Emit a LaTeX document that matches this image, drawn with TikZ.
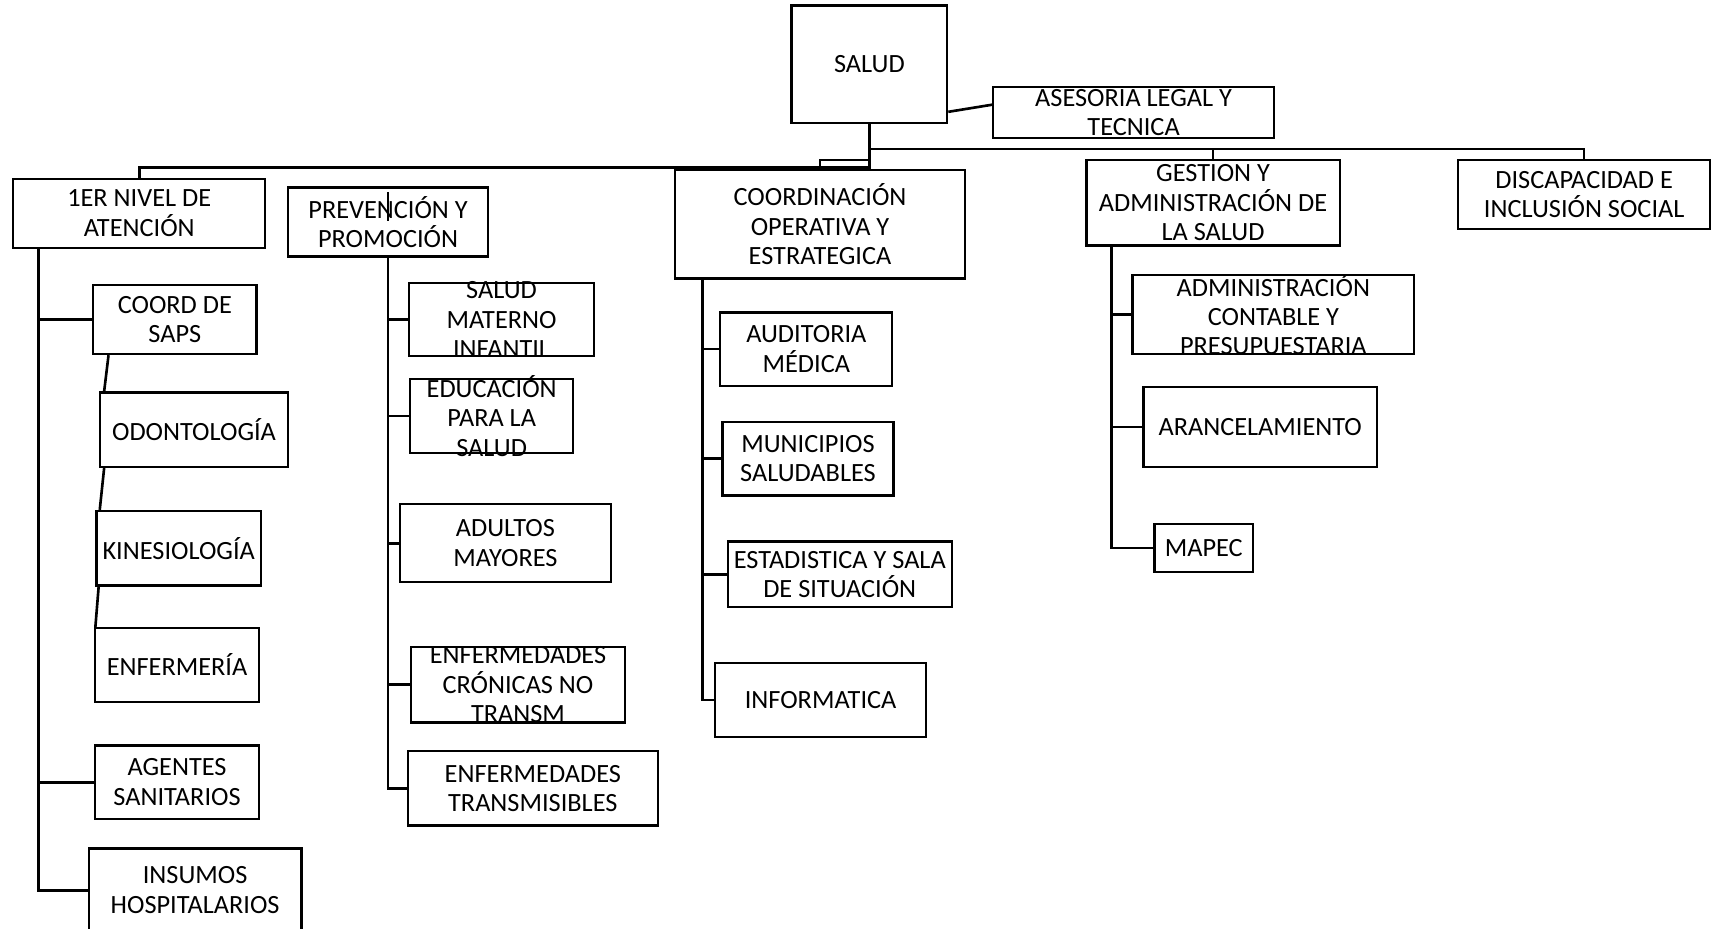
\documentclass[tikz,border=0pt]{standalone}
\usepackage{fontspec}
\setmainfont{Carlito}
\usetikzlibrary{calc}

\begin{document}
\begin{tikzpicture}[x=0.5pt,y=-0.5pt,
  unit/.style={draw,line width=1pt,inner sep=0pt},
  lbl/.style={align=center,font=\fontsize{12}{13.4}\selectfont},
  link/.style={line width=1.2pt}]
  \useasboundingbox (0,0) rectangle (1568,847);
  % boxes: name/left/top/right/bottom/text
  \foreach \n/\a/\b/\c/\d/\t in {
    salud/722/5/864/112/{SALUD},
    asesoria/906/79/1162/126/{ASESORIA LEGAL Y\\TECNICA},
    nivel/12/163/242/226/{1ER NIVEL DE\\ATENCIÓN},
    prevencion/263/171/445/234/{PREVENCIÓN Y\\PROMOCIÓN},
    coord/616/155/880/254/{COORDINACIÓN\\OPERATIVA Y\\ESTRATEGICA},
    gestion/991/146/1222/224/{GESTION Y\\ADMINISTRACIÓN DE\\LA SALUD},
    discap/1330/146/1560/209/{DISCAPACIDAD E\\INCLUSIÓN SOCIAL},
    saps/85/260/234/323/{COORD DE\\SAPS},
    odonto/91/358/263/426/{ODONTOLOGÍA},
    kinesio/88/466/238/534/{KINESIOLOGÍA},
    enfer/87/573/236/640/{ENFERMERÍA},
    agentes/87/680/236/747/{AGENTES\\SANITARIOS},
    insumos/81/774/275/850/{INSUMOS\\HOSPITALARIOS},
    materno/373/258/542/325/{SALUD\\MATERNO\\INFANTIL},
    educ/374/346/523/413/{EDUCACIÓN\\PARA LA\\SALUD},
    adultos/365/460/557/531/{ADULTOS\\MAYORES},
    cronicas/375/590/570/659/{ENFERMEDADES\\CRÓNICAS NO\\TRANSM},
    transm/372/685/600/753/{ENFERMEDADES\\TRANSMISIBLES},
    auditoria/657/285/814/352/{AUDITORIA\\MÉDICA},
    municipios/659/385/815/452/{MUNICIPIOS\\SALUDABLES},
    estadistica/664/494/868/554/{ESTADISTICA Y SALA\\DE SITUACIÓN},
    informatica/652/605/845/672/{INFORMATICA},
    admin/1033/251/1290/323/{ADMINISTRACIÓN\\CONTABLE Y\\PRESUPUESTARIA},
    arancel/1043/353/1256/426/{ARANCELAMIENTO},
    mapec/1053/478/1143/522/{MAPEC}}{
    \pgfmathsetmacro\w{(\c-\a)/2}
    \pgfmathsetmacro\h{(\d-\b)/2}
    \node[unit,minimum width=\w pt,minimum height=\h pt,label={[lbl]center:\t}] (\n) at ({(\a+\c)/2},{(\b+\d)/2}) {};
  }
  % trunk
  \coordinate (busr) at (793,136);
  \coordinate (busc) at (793,146);
  \coordinate (busl) at (793,153);
  \draw[link] (salud.south) -- (busl) -| (nivel.north);
  \draw[link] (busr) -| (gestion.north);
  \draw[link] (busr) -| (discap.north);
  \draw[link] (busc) -| (coord.north);
  \draw[link] ($(salud.south east)+(0,-11)$) -- ($(asesoria.west)+(0,-7)$);
  \draw[link] ($(prevencion.north)+(0,5)$) -- ++(0,27);
  % branches
  \draw[link] ($(nivel.south west)+(24,0)$) coordinate (s1) |- (insumos.west);
  \foreach \k in {saps,agentes} \draw[link] (s1 |- \k.west) -- (\k.west);
  \draw[link] ($(saps.south west)+(15,0)$) -- ($(odonto.north west)+(5,0)$);
  \draw[link] ($(odonto.south west)+(5,0)$) -- ($(kinesio.north west)+(4,0)$);
  \draw[link] ($(kinesio.south west)+(3,0)$) -- ($(enfer.north west)+(1,0)$);
  \draw[link] (prevencion.south) coordinate (s2) |- (transm.west);
  \foreach \k in {materno,educ,adultos,cronicas} \draw[link] (s2 |- \k.west) -- (\k.west);
  \draw[link] ($(coord.south west)+(26,0)$) coordinate (s3) |- (informatica.west);
  \foreach \k in {auditoria,municipios,estadistica} \draw[link] (s3 |- \k.west) -- (\k.west);
  \draw[link] ($(gestion.south west)+(24,0)$) coordinate (s4) |- (mapec.west);
  \foreach \k in {admin,arancel} \draw[link] (s4 |- \k.west) -- (\k.west);
\end{tikzpicture}
\end{document}
